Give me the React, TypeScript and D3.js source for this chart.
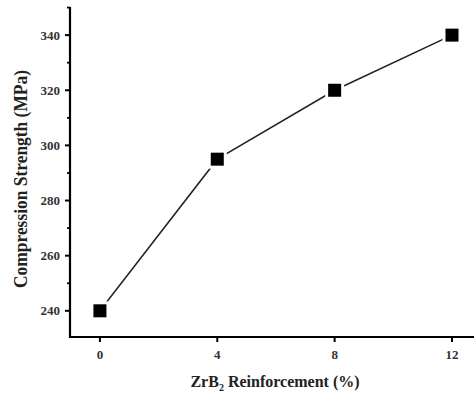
import * as d3 from 'd3'

const reinforcement = [0, 4, 8, 12]
const strength = [240, 295, 320, 340]
const xTickValues = [0, 4, 8, 12]
const yTickValues = [240, 260, 280, 300, 320, 340]
const yMinorTicks = [250, 270, 290, 310, 330, 350]

export default function App() {
  const width = 474
  const height = 396
  const margin = { top: 7, right: 0, bottom: 59, left: 70 }
  const x = d3.scaleLinear().domain([-1.02, 12.75]).range([margin.left, width - margin.right])
  const y = d3.scaleLinear().domain([230.5, 350.2]).range([height - margin.bottom, margin.top])
  const points = reinforcement.map((r, i) => ({ r, s: strength[i] }))
  const line = d3
    .line<{ r: number; s: number }>()
    .x((d) => x(d.r))
    .y((d) => y(d.s))
  const x0 = margin.left
  const y0 = height - margin.bottom
  const font = '"Liberation Serif", "Times New Roman", serif'
  const size = 13

  return (
    <div style={{ position: 'fixed', left: 0, top: 0 }}>
      <svg width={width} height={height} style={{ display: 'block', background: '#fff' }}>
        {/* series */}
        <path d={line(points) ?? ''} fill="none" stroke="#222" strokeWidth="1.5" />
        {points.map((p) => (
          <g key={p.r}>
            <rect x={x(p.r) - size / 2 - 3} y={y(p.s) - size / 2 - 3} width={size + 6} height={size + 6} fill="#fff" />
            <rect x={x(p.r) - size / 2} y={y(p.s) - size / 2} width={size} height={size} fill="#000" />
          </g>
        ))}

        {/* y axis */}
        <line x1={x0} x2={x0} y1={margin.top} y2={y0 + 1} stroke="#000" strokeWidth="2.2" />
        {yTickValues.map((t) => (
          <g key={t} transform={`translate(0,${y(t)})`}>
            <line x1={x0 - 5} x2={x0} stroke="#000" strokeWidth="2" />
            <text x={x0 - 10} y={4.5} textAnchor="end" fontSize="13" fontFamily={font} fontWeight="bold" fill="#333">
              {t}
            </text>
          </g>
        ))}
        {yMinorTicks.map((t) => (
          <line key={t} x1={x0 - 3} x2={x0} y1={y(t)} y2={y(t)} stroke="#000" strokeWidth="1.8" />
        ))}

        {/* x axis */}
        <line x1={x0 - 1} x2={width} y1={y0} y2={y0} stroke="#000" strokeWidth="2.2" />
        {xTickValues.map((t) => (
          <g key={t} transform={`translate(${x(t)},0)`}>
            <line y1={y0} y2={y0 + 5} stroke="#000" strokeWidth="2" />
            <text y={y0 + 22} textAnchor="middle" fontSize="13" fontFamily={font} fontWeight="bold" fill="#333">
              {t}
            </text>
          </g>
        ))}

        {/* axis titles */}
        <text
          x={275}
          y={387}
          textAnchor="middle"
          fontSize="16"
          fontFamily={font}
          fontWeight="bold"
          fill="#222"
        >
          ZrB<tspan fontSize="10" dy="4">2</tspan>
          <tspan dy="-4"> Reinforcement (%)</tspan>
        </text>
        <text
          transform="translate(27,179) rotate(-90)"
          textAnchor="middle"
          fontSize="18"
          fontFamily={font}
          fontWeight="bold"
          fill="#222"
          textLength={218}
          lengthAdjust="spacingAndGlyphs"
        >
          Compression Strength (MPa)
        </text>
      </svg>
    </div>
  )
}
